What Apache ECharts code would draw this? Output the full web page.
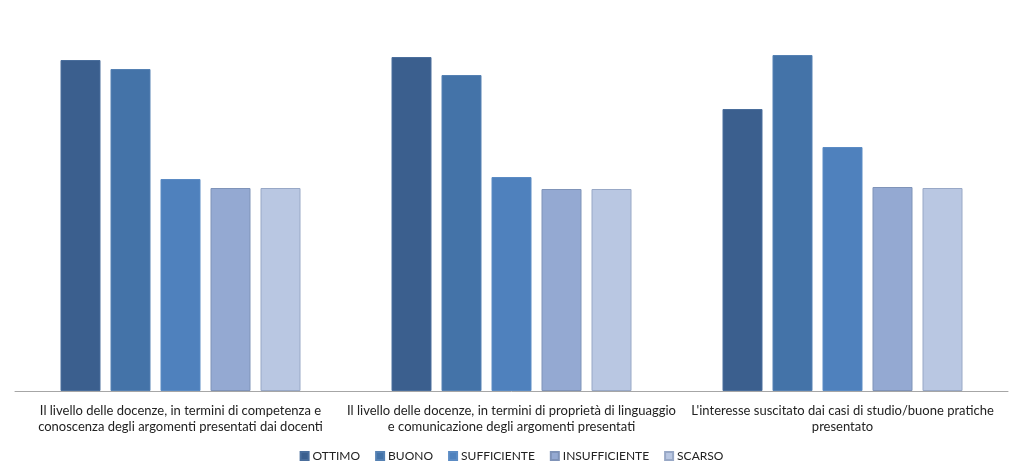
<!DOCTYPE html>
<html><head><meta charset="utf-8">
<script src="https://cdn.jsdelivr.net/npm/echarts@6/dist/echarts.min.js"></script>
<style>html,body{margin:0;padding:0;background:#fff}#c{width:1023px;height:476px}</style>
</head><body><div id="c"></div>
<script>
const categories = [
  "Il livello delle docenze, in termini di competenza e\nconoscenza degli argomenti presentati dai docenti",
  "Il livello delle docenze, in termini di proprietà di linguaggio\ne comunicazione degli argomenti presentati",
  "L'interesse suscitato dai casi di studio/buone pratiche\npresentato"
];
const seriesNames = ["OTTIMO", "BUONO", "SUFFICIENTE", "INSUFFICIENTE", "SCARSO"];
const ottimo = [331, 334, 282];
const buono = [322, 316, 336];
const sufficiente = [212, 214, 244];
const insufficiente = [203, 202, 204];
const scarso = [203, 202, 203];
const values = [ottimo, buono, sufficiente, insufficiente, scarso];
const colors = ["#3B5F8E", "#4473A8", "#4F81BD", "#94A9D2", "#B9C7E2"];
const borders = ["#4A6E9C", "#5581B3", "#5B8BC4", "#7F93B8", "#98A8C6"];

const chart = echarts.init(document.getElementById('c'));
chart.setOption({
  animation: false,
  textStyle: { fontFamily: 'Lato, "Open Sans", sans-serif' },
  grid: { left: 15, right: 15, top: 31, height: 360 },
  legend: {
    bottom: 9, left: 'center',
    itemWidth: 8, itemHeight: 8, itemGap: 15,
    icon: 'rect',
    textStyle: { fontSize: 12, color: '#222', fontFamily: 'Lato, sans-serif', padding: [0, 0, 0, -1] },
    data: seriesNames
  },
  xAxis: {
    type: 'category', data: categories,
    axisLine: { lineStyle: { color: '#A6A6A6' } },
    axisTick: { show: false },
    axisLabel: { interval: 0, fontSize: 13, color: '#222', lineHeight: 16, margin: 12, fontFamily: 'Lato, sans-serif' }
  },
  yAxis: { type: 'value', min: 0, max: 360, show: false, splitLine: { show: false } },
  series: seriesNames.map((n, i) => ({
    name: n, type: 'bar', data: values[i], barWidth: 40, barGap: '25%',
    itemStyle: { color: colors[i], borderColor: borders[i], borderWidth: 1 }
  }))
});
</script></body></html>
